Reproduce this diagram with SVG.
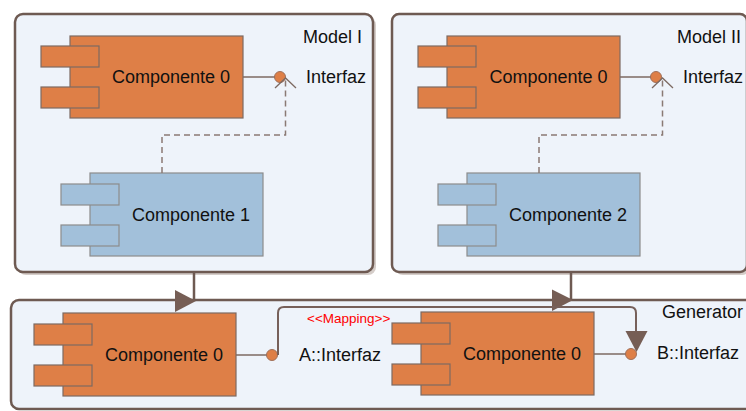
<svg xmlns="http://www.w3.org/2000/svg" width="746" height="411" viewBox="0 0 746 411">
<style>
.cont{fill:#eef3fa;stroke:#6e5a52;stroke-width:2.5}
.shadow{fill:#d5cdc9}
.orange{fill:#de7f47;stroke:#7d6a62;stroke-width:1.2}
.blue{fill:#a2c0da;stroke:#8c8c8c;stroke-width:1.2}
.lolli{stroke:#7d6a62;stroke-width:1.5;fill:none}
.ball{fill:#de7f47;stroke:#a0705a;stroke-width:1}
.dash{fill:none;stroke:#8a7a74;stroke-width:1.5;stroke-dasharray:6 4}
.open{fill:none;stroke:#7d6a62;stroke-width:1.3}
.conn{fill:none;stroke:#6e5a52;stroke-width:2.5}
.map{fill:none;stroke:#76605a;stroke-width:2}
.head{fill:#765e55}
text{font-family:"Liberation Sans",Arial,sans-serif;font-size:18px;fill:#111}
.lbl{text-anchor:end}
.mid{text-anchor:middle}
.stereo{font-size:13.5px;fill:#ff0000}
</style>

<g id="model1">
  <rect class="shadow" x="18" y="17" width="358" height="258" rx="8"/>
  <rect class="cont" x="15" y="14" width="358" height="258" rx="8"/>
  <text class="lbl" x="362" y="43">Model I</text>
</g>
<g id="model2">
  <rect class="shadow" x="395" y="17" width="355" height="258" rx="8"/>
  <rect class="cont" x="392" y="14" width="355" height="258" rx="7"/>
  <text class="lbl" x="741" y="43">Model II</text>
</g>
<g id="generator">
  <rect class="cont" x="11" y="300" width="745" height="109" rx="8"/>
  <text class="lbl" x="743" y="318">Generator</text>
</g>

<g id="m1-comp0">
  <rect class="orange" x="70" y="36" width="173" height="82"/>
  <rect class="orange" x="41" y="46" width="58" height="21"/>
  <rect class="orange" x="41" y="87" width="58" height="21"/>
  <text class="mid" x="171" y="83">Componente 0</text>
</g>
<g id="m1-interfaz">
  <circle class="ball" cx="280" cy="77" r="5.5"/>
  <text x="306" y="83">Interfaz</text>
</g>
<g id="m1-comp1">
  <rect class="blue" x="90" y="173" width="173" height="83"/>
  <rect class="blue" x="61" y="184" width="58" height="21"/>
  <rect class="blue" x="61" y="225" width="58" height="21"/>
  <text class="mid" x="191" y="221">Componente 1</text>
</g>

<g id="m2-comp0">
  <rect class="orange" x="447" y="36" width="173" height="82"/>
  <rect class="orange" x="418" y="46" width="58" height="21"/>
  <rect class="orange" x="418" y="87" width="58" height="21"/>
  <text class="mid" x="548.5" y="83">Componente 0</text>
</g>
<g id="m2-interfaz">
  <circle class="ball" cx="656" cy="77" r="5.5"/>
  <text x="683" y="83">Interfaz</text>
</g>
<g id="m2-comp2">
  <rect class="blue" x="467" y="173" width="173" height="83"/>
  <rect class="blue" x="438" y="184" width="58" height="21"/>
  <rect class="blue" x="438" y="225" width="58" height="21"/>
  <text class="mid" x="568" y="221">Componente 2</text>
</g>

<g id="gen-comp0-a">
  <rect class="orange" x="63" y="313" width="173" height="83"/>
  <rect class="orange" x="34" y="324" width="58" height="21"/>
  <rect class="orange" x="34" y="365" width="58" height="21"/>
  <text class="mid" x="164" y="361">Componente 0</text>
</g>
<g id="gen-a-interfaz">
  <circle class="ball" cx="272" cy="355" r="5.5"/>
  <text x="299" y="361">A::Interfaz</text>
</g>
<g id="gen-comp0-b">
  <rect class="orange" x="421" y="312" width="173" height="83"/>
  <rect class="orange" x="392" y="323" width="58" height="21"/>
  <rect class="orange" x="392" y="364" width="58" height="21"/>
  <text class="mid" x="522" y="359.5">Componente 0</text>
</g>
<g id="gen-b-interfaz">
  <circle class="ball" cx="631" cy="354" r="5.5"/>
  <text x="657" y="359">B::Interfaz</text>
</g>

<g id="connectors">
  <path class="lolli" d="M243,77 H274.5"/>
  <path class="lolli" d="M620,77 H650.5"/>
  <path class="lolli" d="M236,355 H266.5"/>
  <path class="lolli" d="M594,354 H625.5"/>
  <path class="dash" d="M162,173 V135 H285.5 V80"/>
  <path class="open" d="M275,88 L285.5,78 L296,88"/>
  <path class="dash" d="M539,173 V135 H662.5 V80"/>
  <path class="open" d="M652,88 L662.5,78 L673,88"/>
  <path class="conn" d="M194,273 V301"/>
  <polygon class="head" points="175,290 196,301 175,312"/>
  <path class="conn" d="M571,273 V300"/>
  <polygon class="head" points="552,289.5 573,300 552,311"/>
  <path class="map" d="M278,355 V313 Q278,307 284,307 H630 Q636,307 636,313 V332"/>
  <polygon class="head" points="625.5,331 647.5,331 636.5,352"/>
  <text class="stereo" x="307" y="323">&lt;&lt;Mapping&gt;&gt;</text>
</g>
</svg>
